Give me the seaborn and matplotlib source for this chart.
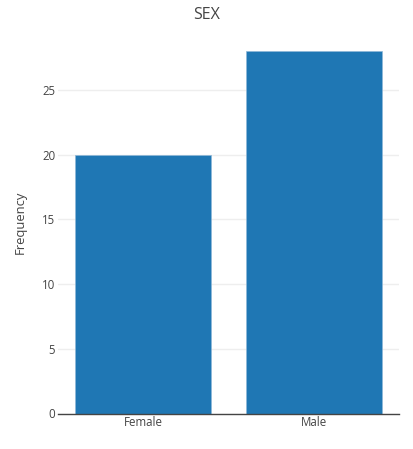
import matplotlib
matplotlib.use("Agg")
import matplotlib.pyplot as plt
import seaborn as sns
import pandas as pd

# Data
categories = ["Female", "Male"]
counts = [20, 28]

df = pd.DataFrame({"SEX": categories, "Frequency": counts})

sns.set_style("white")
plt.rcParams["font.family"] = ["Open Sans", "DejaVu Sans"]

fig = plt.figure(figsize=(4.13, 4.49), dpi=100)
ax = fig.add_axes([58 / 413, (449 - 413.5) / 449, (399 - 58) / 413, (413.5 - 32) / 449])

sns.barplot(data=df, x="SEX", y="Frequency", color="#1f77b4", saturation=1,
            width=0.8, edgecolor="#8fb8d8", linewidth=0.5, ax=ax)

ax.set_ylim(0, 29.47)
ax.set_xlim(-0.5, 1.5)
ax.set_yticks([0, 5, 10, 15, 20, 25])
ax.yaxis.grid(True, color="#eeeeee", linewidth=1)
ax.set_axisbelow(True)

for s in ["top", "right", "left"]:
    ax.spines[s].set_visible(False)
ax.spines["bottom"].set_color("#444444")
ax.spines["bottom"].set_linewidth(1)

ax.tick_params(axis="y", length=0, labelcolor="#444444", labelsize=8.3, pad=2)
ax.tick_params(axis="x", length=0, labelcolor="#444444", labelsize=8.3, pad=2)

ax.set_xlabel("")
ax.set_ylabel("Frequency", fontsize=9.4, color="#444444", labelpad=11)

fig.suptitle("SEX", x=0.5, y=1 - 15 / 449, va="center",
             fontsize=11.5, color="#444444")

fig.savefig("out.png", dpi=100, facecolor="white")
